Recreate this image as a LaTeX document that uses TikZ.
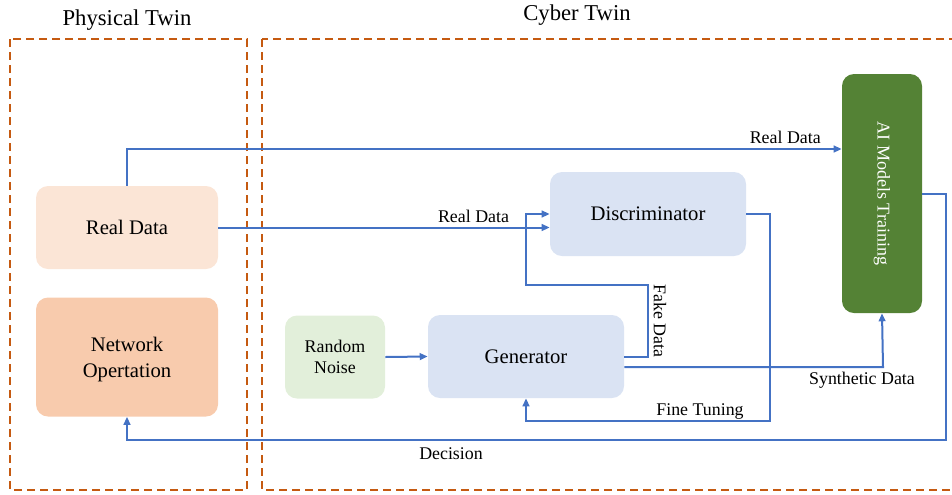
\documentclass[tikz,border=0pt]{standalone}
\usepackage{fontspec}
\setmainfont{Liberation Serif}
\usepackage{xcolor}
\usetikzlibrary{arrows.meta}

\begin{document}
\begin{tikzpicture}[x=0.75pt,y=-0.75pt,
  blk/.style={rounded corners=9pt,inner sep=2pt,align=center,font=\fontsize{15.5}{19.5}\selectfont},
  twinbox/.style={draw=twinorange,line width=1.5pt,dash pattern=on 6pt off 3.75pt},
  flow/.style={draw=flowblue,line width=1.5pt,-{Triangle[length=6pt,width=5pt]}},
  lbl/.style={font=\fontsize{13.4}{16}\selectfont,inner sep=1pt}]
\definecolor{twinorange}{HTML}{C55A11}
\definecolor{flowblue}{HTML}{4472C4}
\definecolor{peachlight}{HTML}{FBE5D6}
\definecolor{peach}{HTML}{F8CBAD}
\definecolor{mint}{HTML}{E2EFDA}
\definecolor{paleblue}{HTML}{DAE3F3}
\definecolor{leaf}{HTML}{548235}
\useasboundingbox (0,0) rectangle (952,494);

% twins
\draw[twinbox] (10,39) rectangle (247,490);
\draw[twinbox] (262,39) rectangle (958,490);
\node[font=\fontsize{17}{20}\selectfont] (phys) at (127,20) {Physical Twin};
\node[font=\fontsize{17}{20}\selectfont] (cyber) at (577,15) {Cyber Twin};

% blocks
\node[blk,fill=peachlight,minimum width=136.5pt,minimum height=62.25pt] (realdata) at (127,227.5) {Real Data};
\node[blk,fill=peach,minimum width=136.5pt,minimum height=89.25pt] (netop) at (127,357) {};
\node[blk] (netoplbl) at (127,360) {Network\\Opertation};
\node[blk,fill=mint,minimum width=75pt,minimum height=62.25pt,font=\fontsize{13.4}{15.75}\selectfont] (noise) at (335,357) {Random\\Noise};
\node[blk,fill=paleblue,minimum width=147pt,minimum height=62.25pt] (gen) at (526,356.5) {Generator};
\node[blk,fill=paleblue,minimum width=147pt,minimum height=63pt] (disc) at (648,214) {Discriminator};
\node[blk,fill=leaf,minimum width=60pt,minimum height=179.25pt] (ai) at (882,193.5) {};
\node[rotate=-90,text=white,font=\fontsize{13.5}{16}\selectfont] (ailbl) at (ai.center) {AI Models Training};

% connectors
\coordinate (rdup) at (127,149);
\draw[flow] (realdata.north) -- (rdup) -- (rdup -| ai.west) node[lbl,above left,xshift=-14pt,yshift=2pt] {Real Data};
\draw[flow] (realdata.east) -- (realdata.east -| disc.west) node[lbl,above,pos=0.77,yshift=2pt] {Real Data};
\draw[flow] (noise.east) -- (gen.west);

\coordinate (fk1) at (648,285);
\coordinate (fk2) at (526,285);
\draw[flow] (gen.east) -- (gen.east -| fk1) -- (fk1) -- (fk2) -- (fk2 |- disc.west) -- (disc.west);
\node[lbl,rotate=-90] (fake) at (660,321) {Fake Data};

\coordinate (syn) at (883,367);
\draw[flow] (gen.east |- syn) -- (syn) -- (ai.south);
\node[lbl] (synlbl) at (862,380) {Synthetic Data};

\coordinate (ft1) at (770,214);
\coordinate (ft2) at (770,421);
\draw[flow] (disc.east) -- (ft1) -- (ft2) -- (ft2 -| gen.south) -- (gen.south);
\node[lbl] (ftlbl) at (700,412) {Fine Tuning};

\coordinate (dc1) at (946,194);
\coordinate (dc2) at (946,440);
\draw[flow] (ai.east |- dc1) -- (dc1) -- (dc2) -- (dc2 -| netop.south) -- (netop.south);
\node[lbl] (declbl) at (451,454) {Decision};
\end{tikzpicture}
\end{document}
